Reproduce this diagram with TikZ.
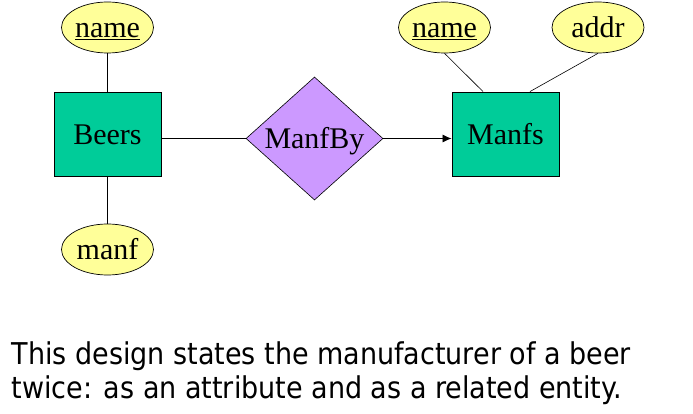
\documentclass[tikz,border=0pt]{standalone}
\usepackage{fontspec}
\setmainfont{Liberation Serif}
\newfontfamily\captionfont{DejaVu Sans Condensed}
\usetikzlibrary{shapes.geometric,arrows.meta}
\definecolor{entgreen}{RGB}{0,204,153}
\definecolor{attryellow}{RGB}{255,255,153}
\definecolor{relpurple}{RGB}{204,153,255}
\tikzset{
  entity/.style={draw=black, line width=0.9pt, fill=entgreen, minimum width=107pt, minimum height=84pt, inner sep=0pt, text height=22pt, text depth=0pt, font=\fontsize{30}{30}\selectfont},
  attrib/.style={ellipse, draw=black, line width=0.7pt, fill=attryellow, minimum width=92pt, minimum height=51pt, inner sep=0pt, text height=20pt, text depth=0pt, font=\fontsize{30}{30}\selectfont},
  relship/.style={diamond, draw=black, line width=0.6pt, fill=relpurple, minimum width=137pt, minimum height=123pt, inner sep=0pt, text height=21pt, text depth=0pt, font=\fontsize{30}{30}\selectfont},
  conn/.style={draw=black, line width=0.8pt},
  captxt/.style={anchor=base west, inner sep=0pt, font=\captionfont\fontsize{30}{34}\selectfont}
}
\begin{document}
\begin{tikzpicture}[x=1pt,y=-1pt]
\path[use as bounding box, fill=white] (0,0) rectangle (693,414);
\node[entity] (beers) at (107.5,134) {Beers};
\node[entity] (manfs) at (505.5,134) {Manfs};
\node[relship] (manfby) at (314.5,138.5) {ManfBy};
\node[attrib] (bname) at (107.5,27.5) {\underline{name}};
\node[attrib] (bmanf) at (107.5,249.5) {manf};
\node[attrib] (mname) at (444.5,27.5) {\underline{name}};
\node[attrib] (maddr) at (598,27.5) {addr};
\draw[conn] (bname.south) -- (beers.north);
\draw[conn] (bmanf.north) -- (beers.south);
\draw[conn] (manfby.west -| beers.east) -- (manfby.west);
\draw[conn, -{Latex[length=9pt,width=8pt]}] (manfby.east) -- (manfby.east -| manfs.west);
\draw[conn, line width=0.6pt] (mname.south) -- ([xshift=-22.5pt]manfs.north);
\draw[conn, line width=0.6pt] (maddr.south) -- ([xshift=24.5pt]manfs.north);
\node[captxt] (cap1) at (11.5,364) {This design states the manufacturer of a beer};
\node[captxt] (cap2) at (11.5,398) {twice: as an attribute and as a related entity.};
\end{tikzpicture}
\end{document}
